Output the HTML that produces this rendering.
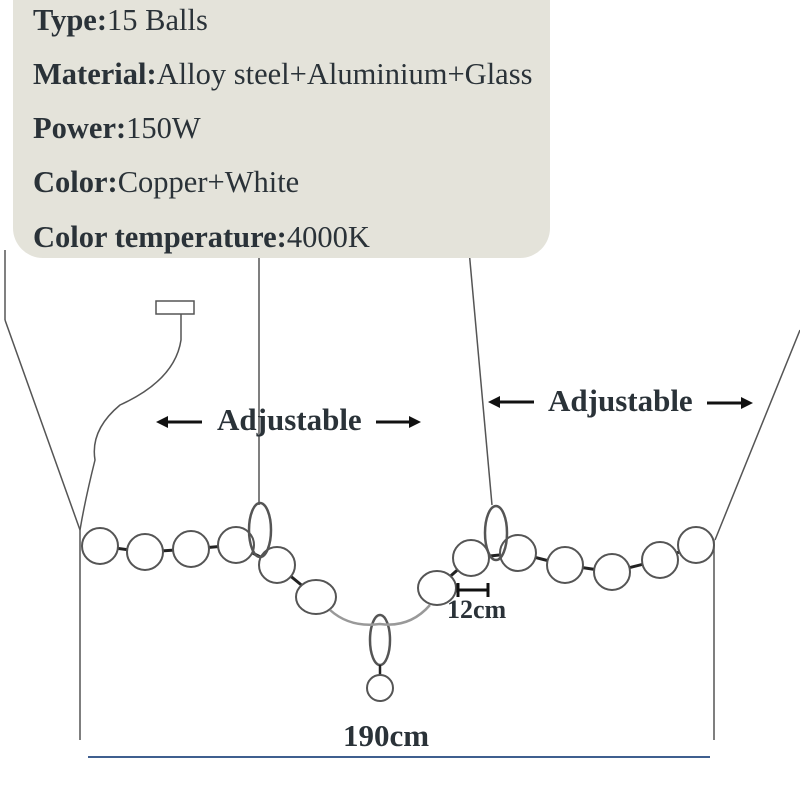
<!DOCTYPE html>
<html><head><meta charset="utf-8"><style>
body{margin:0;width:800px;height:800px;background:#fff;overflow:hidden;position:relative;font-family:"Liberation Serif",serif;}
.box{position:absolute;left:13px;top:-30px;width:537px;height:288px;background:#e4e3da;border-radius:30px;}
.t{position:absolute;left:33px;font-size:30.5px;color:#2a3238;white-space:nowrap;line-height:1;}
.t b{font-weight:bold;}
svg{position:absolute;left:0;top:0;}
.lbl{position:absolute;font-weight:bold;color:#2a3238;white-space:nowrap;line-height:1;}
</style></head><body>
<svg width="800" height="800" viewBox="0 0 800 800">
<g stroke="#555" stroke-width="1.5" fill="none">
<line x1="5" y1="250" x2="5" y2="320"/>
<line x1="5" y1="320" x2="80" y2="530"/>
<line x1="800" y1="330" x2="715" y2="540"/>
<line x1="259" y1="250" x2="259" y2="505"/>
<line x1="469" y1="250" x2="492" y2="505"/>
<line x1="80" y1="530" x2="80" y2="740"/>
<line x1="714" y1="540" x2="714" y2="740"/>
<rect x="156" y="301" width="38" height="13"/>
<path d="M181 314 L181 340 Q175 380 120 405 Q90 430 95 460 Q85 500 80 530"/>
<path d="M100 546 L145 552 L191 549 L236 545 L277 565 L316 597 M437 588 L471 558 L518 553 L565 565 L612 572 L660 560 L696 545" stroke="#222" stroke-width="3"/>
<g stroke="#555" stroke-width="2" fill="#fff">
<circle cx="100" cy="546" r="18"/><circle cx="145" cy="552" r="18"/><circle cx="191" cy="549" r="18"/><circle cx="236" cy="545" r="18"/>
<circle cx="277" cy="565" r="18"/><ellipse cx="316" cy="597" rx="20" ry="17"/>
<ellipse cx="437" cy="588" rx="19" ry="17"/><circle cx="471" cy="558" r="18"/><circle cx="518" cy="553" r="18"/><circle cx="565" cy="565" r="18"/>
<circle cx="612" cy="572" r="18"/><circle cx="660" cy="560" r="18"/><circle cx="696" cy="545" r="18"/>
</g>
<ellipse cx="260" cy="530" rx="11" ry="27" stroke-width="2.5"/>
<ellipse cx="496" cy="533" rx="11" ry="27" stroke-width="2.5"/>
<ellipse cx="380" cy="640" rx="10" ry="25" stroke-width="2.5"/>
<line x1="380" y1="665" x2="380" y2="675" stroke="#222" stroke-width="2.5"/>
<circle cx="380" cy="688" r="13" stroke-width="2"/>
<path d="M330 610 Q350 628 380 624 Q410 628 430 605" stroke="#999" stroke-width="2.5"/>
</g>
<line x1="88" y1="757" x2="710" y2="757" stroke="#3f5f8f" stroke-width="2"/>
<g stroke="#111" stroke-width="3" fill="#111">
<line x1="458" y1="590" x2="488" y2="590"/><line x1="458" y1="583" x2="458" y2="597"/><line x1="488" y1="583" x2="488" y2="597"/>
<line x1="166" y1="422" x2="202" y2="422"/><polygon points="156,422 168,416 168,428" stroke="none"/>
<line x1="376" y1="422" x2="410" y2="422"/><polygon points="421,422 409,416 409,428" stroke="none"/>
<line x1="498" y1="402" x2="534" y2="402"/><polygon points="488,402 500,396 500,408" stroke="none"/>
<line x1="707" y1="403" x2="742" y2="403"/><polygon points="753,403 741,397 741,409" stroke="none"/>
</g>
</svg>
<div class="box"></div>
<div class="t" style="top:5px"><b>Type:</b>15 Balls</div>
<div class="t" style="top:59px"><b>Material:</b>Alloy steel+Aluminium+Glass</div>
<div class="t" style="top:113px"><b>Power:</b>150W</div>
<div class="t" style="top:167px"><b>Color:</b>Copper+White</div>
<div class="t" style="top:222px"><b>Color temperature:</b>4000K</div>
<div class="lbl" style="left:217px;top:404px;font-size:31px">Adjustable</div>
<div class="lbl" style="left:548px;top:385px;font-size:31px">Adjustable</div>
<div class="lbl" style="left:447px;top:597px;font-size:26px">12cm</div>
<div class="lbl" style="left:343px;top:720px;font-size:31px">190cm</div>
</body></html>
